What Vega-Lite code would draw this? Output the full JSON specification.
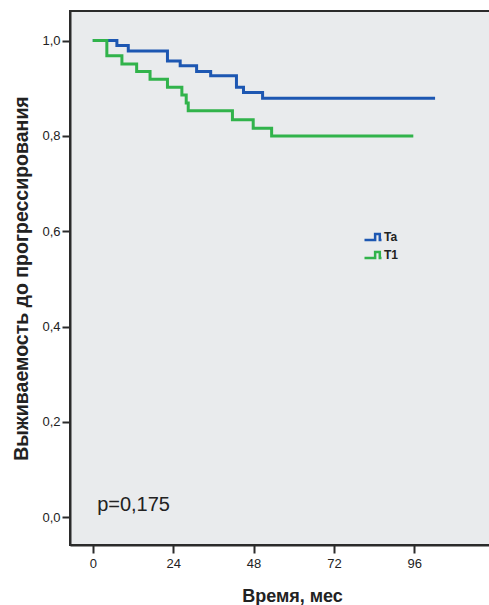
{
  "$schema": "https://vega.github.io/schema/vega-lite/v6.json",
  "autosize": "none",
  "width": 420,
  "height": 534,
  "padding": {"left": 70, "top": 11, "right": 0, "bottom": 60},
  "background": "#ffffff",
  "config": {
    "view": {"fill": "#e9ebed", "stroke": "#2b2b2b", "strokeWidth": 2},
    "font": "Liberation Sans"
  },
  "layer": [
    {
      "data": {"values": [
        {"group": "Ta", "t": 0, "s": 1.0},
        {"group": "Ta", "t": 7.2, "s": 0.9895},
        {"group": "Ta", "t": 10.6, "s": 0.978},
        {"group": "Ta", "t": 22.3, "s": 0.957},
        {"group": "Ta", "t": 26.1, "s": 0.947},
        {"group": "Ta", "t": 31.0, "s": 0.935},
        {"group": "Ta", "t": 35.2, "s": 0.926},
        {"group": "Ta", "t": 42.9, "s": 0.902},
        {"group": "Ta", "t": 45.0, "s": 0.891},
        {"group": "Ta", "t": 50.7, "s": 0.879},
        {"group": "Ta", "t": 102.2, "s": 0.879},
        {"group": "T1", "t": 0, "s": 1.0},
        {"group": "T1", "t": 4.2, "s": 0.968},
        {"group": "T1", "t": 8.7, "s": 0.951},
        {"group": "T1", "t": 13.1, "s": 0.935},
        {"group": "T1", "t": 17.1, "s": 0.919},
        {"group": "T1", "t": 22.3, "s": 0.902},
        {"group": "T1", "t": 26.6, "s": 0.886},
        {"group": "T1", "t": 27.9, "s": 0.869},
        {"group": "T1", "t": 28.5, "s": 0.853},
        {"group": "T1", "t": 41.7, "s": 0.834},
        {"group": "T1", "t": 47.9, "s": 0.816},
        {"group": "T1", "t": 53.4, "s": 0.800},
        {"group": "T1", "t": 95.7, "s": 0.800}
      ]},
      "mark": {"type": "line", "interpolate": "step-after", "strokeWidth": 3, "clip": true},
      "encoding": {
        "x": {
          "field": "t", "type": "quantitative",
          "scale": {"domain": [-6.8, 118.6], "nice": false, "zero": false},
          "axis": {
            "values": [0, 24, 48, 72, 96],
            "title": "Время, мес",
            "titleFontSize": 18, "titleFontWeight": "bold", "titleColor": "#222",
            "titlePadding": 17, "titleX": 222,
            "labelFontSize": 13, "labelColor": "#222", "labelPadding": 4,
            "tickSize": 8, "tickWidth": 2, "tickColor": "#2b2b2b",
            "domainColor": "#2b2b2b", "domainWidth": 2,
            "grid": false
          }
        },
        "y": {
          "field": "s", "type": "quantitative",
          "scale": {"domain": [-0.058, 1.062], "nice": false, "zero": false},
          "axis": {
            "values": [0, 0.2, 0.4, 0.6, 0.8, 1.0],
            "labelExpr": "replace(format(datum.value, '.1f'), '.', ',')",
            "title": "Выживаемость до прогрессирования",
            "titleFontSize": 19.5, "titleFontWeight": "bold", "titleColor": "#222",
            "titlePadding": 10,
            "labelFontSize": 13, "labelColor": "#222", "labelPadding": 2,
            "tickSize": 8, "tickWidth": 2, "tickColor": "#2b2b2b",
            "domainColor": "#2b2b2b", "domainWidth": 2,
            "grid": false
          }
        },
        "color": {
          "field": "group", "type": "nominal",
          "scale": {"domain": ["Ta", "T1"], "range": ["#1d57b2", "#31b34b"]},
          "legend": {
            "orient": "none", "legendX": 293, "legendY": 216,
            "title": null, "padding": 0, "rowPadding": 0,
            "symbolType": "M-1,0.35H0.25V-0.35H0.8V0.35H1",
            "symbolSize": 289, "symbolStrokeWidth": 2.5,
            "labelFontSize": 12, "labelFontWeight": "bold", "labelColor": "#222",
            "labelOffset": 1
          }
        }
      }
    },
    {
      "data": {"values": [{"label": "p=0,175", "t": 1.3, "s": 0.014}]},
      "mark": {"type": "text", "align": "left", "baseline": "alphabetic", "fontSize": 20, "color": "#222"},
      "encoding": {
        "x": {"field": "t", "type": "quantitative"},
        "y": {"field": "s", "type": "quantitative"},
        "text": {"field": "label"}
      }
    }
  ]
}
